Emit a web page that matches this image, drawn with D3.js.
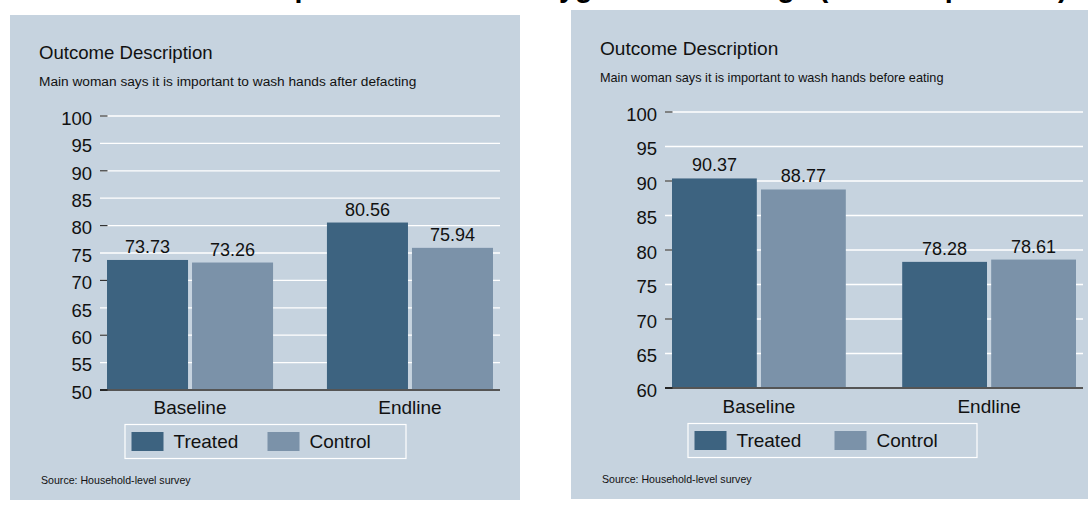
<!DOCTYPE html>
<html>
<head>
<meta charset="utf-8">
<script src="https://cdn.jsdelivr.net/npm/d3@7"></script>
<style>
  html, body { margin: 0; padding: 0; background: #ffffff; }
  svg { display: block; font-family: "Liberation Sans", Arial, Helvetica, sans-serif; }
</style>
</head>
<body>
<svg id="chart" width="1088" height="507"></svg>
<script>
// ---- data ----
const categories = ["Baseline", "Endline"];
const seriesNames = ["Treated", "Control"];

const afterDefecatingTreated = [73.73, 80.56];
const afterDefecatingControl = [73.26, 75.94];
const afterDefecatingTicks = [50, 55, 60, 65, 70, 75, 80, 85, 90, 95, 100];

const beforeEatingTreated = [90.37, 78.28];
const beforeEatingControl = [88.77, 78.61];
const beforeEatingTicks = [60, 65, 70, 75, 80, 85, 90, 95, 100];

const mainTitle = "Impact on Women's Hygiene Knowledge (Main respondent)";
const panelHeading = "Outcome Description";
const sourceNote = "Source: Household-level survey";

// ---- style ----
const colors = { Treated: "#3d6380", Control: "#7b92a9" };
const panelFill = "#c6d3df";
const fontStack = '"Liberation Sans", Arial, Helvetica, sans-serif';

const svg = d3.select("#chart");

// overall title (sits mostly above the visible area)
svg.append("text")
  .attr("x", 261).attr("y", -3.5)
  .attr("font-size", 28.7).attr("font-weight", "bold")
  .attr("fill", "#000")
  .text(mainTitle);

const panels = [
  {
    subtitle: "Main woman says it is important to wash hands after defacting",
    treated: afterDefecatingTreated, control: afterDefecatingControl,
    ticks: afterDefecatingTicks,
    box: { x: 10, y: 15, w: 510, h: 485 },
    plot: { l: 100, r: 500, top: 116, bottom: 390 },
    headY: 58.5, headSize: 18.6, subY: 85.5, subSize: 13.7, catY: 413.5, sourceY: 484,
    legend: { cx: 265, y: 424, w: 281, h: 34, col: 136 }
  },
  {
    subtitle: "Main woman says it is important to wash hands before eating",
    treated: beforeEatingTreated, control: beforeEatingControl,
    ticks: beforeEatingTicks,
    box: { x: 571, y: 10, w: 522, h: 489 },
    plot: { l: 665, r: 1083, top: 112, bottom: 388 },
    headY: 55, headSize: 19.1, subY: 82, subSize: 12.7, catY: 413, sourceY: 483,
    legend: { cx: 832, y: 423, w: 289, h: 34, col: 140 }
  }
];

panels.forEach(p => {
  const g = svg.append("g");
  const rows = categories.map((c, i) => ({
    category: c,
    Treated: p.treated[i],
    Control: p.control[i]
  }));

  // panel background
  g.append("rect")
    .attr("x", p.box.x).attr("y", p.box.y)
    .attr("width", p.box.w).attr("height", p.box.h)
    .attr("fill", panelFill);

  // heading + description
  const textX = p.box.x + 29;
  g.append("text").attr("x", textX).attr("y", p.headY)
    .attr("font-size", p.headSize).attr("fill", "#111").text(panelHeading);
  g.append("text").attr("x", textX).attr("y", p.subY)
    .attr("font-size", p.subSize).attr("fill", "#111").text(p.subtitle);

  // scales
  const yDomain = d3.extent(p.ticks);
  const y = d3.scaleLinear().domain(yDomain).range([p.plot.bottom, p.plot.top]);
  const x0 = d3.scaleBand().domain(categories)
    .range([p.plot.l + 7, p.plot.r - 7])
    .paddingInner(0.245).paddingOuter(0);
  const x1 = d3.scaleBand().domain(seriesNames)
    .range([0, x0.bandwidth()])
    .paddingInner(0.047).paddingOuter(0);

  // white gridlines
  g.append("g").selectAll("line")
    .data(p.ticks.filter(t => t !== yDomain[0]))
    .join("line")
    .attr("x1", p.plot.l).attr("x2", p.plot.r)
    .attr("y1", d => y(d)).attr("y2", d => y(d))
    .attr("stroke", "#ffffff").attr("stroke-width", 1.3);

  // y axis: labels and short dark ticks on the major (every 10) values
  const yAxis = d3.axisLeft(y).tickValues(p.ticks).tickSize(0).tickPadding(0)
    .tickFormat(d3.format("d"));
  const ax = g.append("g").attr("transform", `translate(${p.plot.l - 8},0)`).call(yAxis);
  ax.select(".domain").remove();
  ax.selectAll("text")
    .attr("font-family", fontStack).attr("font-size", 18.5)
    .attr("fill", "#111").attr("dy", "0.45em").attr("x", 0);
  g.append("g").selectAll("line")
    .data(p.ticks.filter(t => t % 10 === 0 && t !== yDomain[0]))
    .join("line")
    .attr("x1", p.plot.l).attr("x2", p.plot.l + 7.5)
    .attr("y1", d => y(d)).attr("y2", d => y(d))
    .attr("stroke", "#333").attr("stroke-width", 1.2);

  // bars
  const groups = g.append("g").selectAll("g")
    .data(rows).join("g")
    .attr("transform", d => `translate(${x0(d.category)},0)`);

  groups.selectAll("rect")
    .data(d => seriesNames.map(s => ({ series: s, value: d[s] })))
    .join("rect")
    .attr("x", d => x1(d.series))
    .attr("width", x1.bandwidth())
    .attr("y", d => y(d.value))
    .attr("height", d => y(yDomain[0]) - y(d.value))
    .attr("fill", d => colors[d.series]);

  // value labels
  groups.selectAll("text.val")
    .data(d => seriesNames.map(s => ({ series: s, value: d[s] })))
    .join("text").attr("class", "val")
    .attr("x", d => x1(d.series) + x1.bandwidth() / 2)
    .attr("y", d => y(d.value) - 7)
    .attr("text-anchor", "middle")
    .attr("font-size", 18).attr("fill", "#111")
    .text(d => d3.format(".2f")(d.value));

  // baseline axis line
  g.append("line")
    .attr("x1", p.plot.l).attr("x2", p.plot.r)
    .attr("y1", y(yDomain[0])).attr("y2", y(yDomain[0]))
    .attr("stroke", "#555").attr("stroke-width", 1.8);
  g.append("line")
    .attr("x1", p.plot.l - 0).attr("x2", p.plot.l + 7.5)
    .attr("y1", y(yDomain[0])).attr("y2", y(yDomain[0]))
    .attr("stroke", "#222").attr("stroke-width", 1.8);

  // category labels
  g.append("g").selectAll("text")
    .data(categories).join("text")
    .attr("x", d => x0(d) + x0.bandwidth() / 2)
    .attr("y", p.catY)
    .attr("text-anchor", "middle")
    .attr("font-size", 19).attr("fill", "#111")
    .text(d => d);

  // legend
  const L = p.legend;
  const lx = L.cx - L.w / 2;
  const lg = g.append("g").attr("transform", `translate(${lx},${L.y})`);
  lg.append("rect")
    .attr("x", 0.5).attr("y", 0.5).attr("width", L.w).attr("height", L.h)
    .attr("fill", panelFill).attr("stroke", "#ffffff").attr("stroke-width", 1.2);
  const items = lg.selectAll("g.item").data(seriesNames).join("g")
    .attr("class", "item")
    .attr("transform", (d, i) => `translate(${7 + i * L.col},${8})`);
  items.append("rect")
    .attr("width", 32).attr("height", 19)
    .attr("fill", d => colors[d]);
  items.append("text")
    .attr("x", 42).attr("y", 16)
    .attr("font-size", 19).attr("fill", "#111")
    .text(d => d);

  // source note
  g.append("text")
    .attr("x", textX + 2).attr("y", p.sourceY)
    .attr("font-size", 10.6).attr("fill", "#111")
    .text(sourceNote);
});
</script>
</body>
</html>
